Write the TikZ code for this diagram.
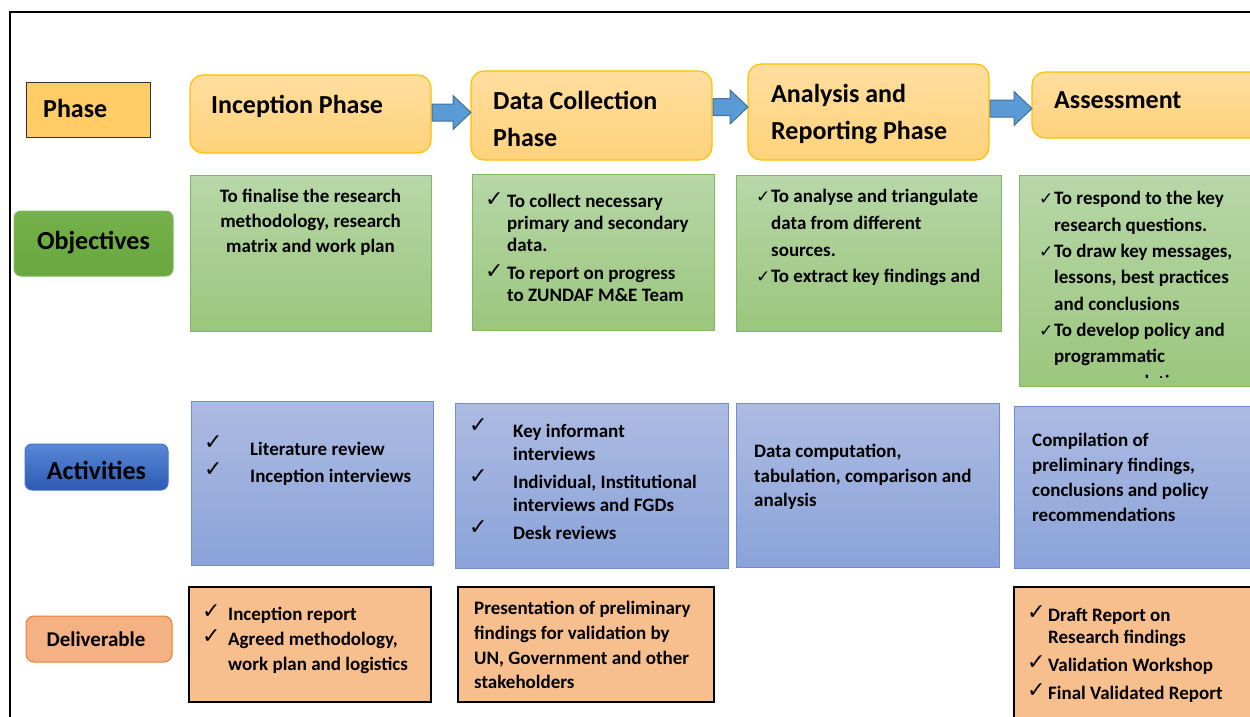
\documentclass[tikz,border=0pt]{standalone}
\usepackage{fontspec}
\setmainfont{Carlito}
\newfontfamily\symfont{DejaVu Sans}
\usetikzlibrary{calc}

\definecolor{phasetop}{HTML}{FFDE9E}
\definecolor{phasebot}{HTML}{FFD27C}
\definecolor{phaseline}{HTML}{FFC000}
\definecolor{labelgold}{HTML}{FFCC66}
\definecolor{objtop}{HTML}{B7D7A8}
\definecolor{objbot}{HTML}{9BC67D}
\definecolor{objline}{HTML}{80BA5E}
\definecolor{objlabtop}{HTML}{74B04B}
\definecolor{objlabbot}{HTML}{68A83F}
\definecolor{acttop}{HTML}{ACBBE2}
\definecolor{actbot}{HTML}{8BA3D9}
\definecolor{actline}{HTML}{6F8FD0}
\definecolor{actlabtop}{HTML}{5888D6}
\definecolor{actlabbot}{HTML}{2E5AB4}
\definecolor{actlabline}{HTML}{4472C4}
\definecolor{dellabel}{HTML}{F4B183}
\definecolor{delline}{HTML}{ED7D31}
\definecolor{delfill}{HTML}{F8BF8E}
\definecolor{arrowfill}{HTML}{5B9BD5}
\definecolor{arrowline}{HTML}{41719C}

% fonts
\newcommand\bodyfont[1]{\bfseries\fontsize{19}{#1}\selectfont}
\newcommand\tst{\rule{0pt}{0.72em}}
% check mark in a box of given width, raised by given amount
\newcommand\chk[3][22]{\makebox[#2][l]{\raisebox{#3}{\symfont\bfseries\fontsize{#1}{#1}\selectfont ✓}}}
\newcommand\ind[1]{\hspace*{#1}}

\tikzset{
  box/.style={anchor=north west, inner sep=0pt, outer sep=0pt},
  phasebox/.style={box, draw=phaseline, line width=1.2pt, rounded corners=13pt,
    top color=phasetop, bottom color=phasebot},
  objbox/.style={box, draw=objline, line width=1pt, top color=objtop, bottom color=objbot},
  actbox/.style={box, draw=actline, line width=1pt, top color=acttop, bottom color=actbot},
  delbox/.style={box, draw=black, line width=1.3pt, fill=delfill},
  body/.style={anchor=north west, inner sep=0pt, align=left},
  head/.style={anchor=north west, inner sep=0pt, align=left,
    font=\bfseries\fontsize{26}{37}\selectfont},
  labeltext/.style={inner sep=0pt, font=\bfseries\fontsize{26}{30}\selectfont},
  barrow/.style={draw=arrowline, line width=1pt, fill=arrowfill, line join=miter},
  frame/.style={draw=black, line width=2pt},
}

% block arrow from the east side of #1 to the west side of #2, centred at height #3
\newcommand\blockarrow[3]{%
  \draw[barrow] let \p1=(#1.east), \p2=(#2.west) in
    ({\x1+1pt},{-(#3)*1pt+8.5pt}) -- ({\x2-18pt},{-(#3)*1pt+8.5pt}) --
    ({\x2-18pt},{-(#3)*1pt+17pt}) -- ({\x2},{-(#3)*1pt}) --
    ({\x2-18pt},{-(#3)*1pt-17pt}) -- ({\x2-18pt},{-(#3)*1pt-8.5pt}) --
    ({\x1+1pt},{-(#3)*1pt-8.5pt}) -- cycle;}

\begin{document}
\begin{tikzpicture}[x=1pt,y=-1pt]
\clip (0,0) rectangle (1250,717);

% outer frame
\draw[frame] (1260,12) -- (10,12) -- (10,730);

% ---- row labels
\node[box, draw=black!80, line width=1pt, fill=labelgold,
  minimum width=124pt, minimum height=55pt] (lphase) at (26,82) {};
\node[labeltext, anchor=west] (lphaset) at (43,108) {Phase};

\node[box, draw=objline, line width=1pt, rounded corners=7pt,
  top color=objlabtop, bottom color=objlabbot,
  minimum width=159pt, minimum height=65pt] (lobj) at (14,211) {};
\node[labeltext] (lobjt) at ([yshift=1pt]lobj.center) {Objectives};

\node[box, draw=actlabline, line width=1pt, rounded corners=7pt,
  top color=actlabtop, bottom color=actlabbot,
  minimum width=143pt, minimum height=46pt] (lact) at (25,444) {};
\node[labeltext] (lactt) at ([yshift=-3pt]lact.center) {Activities};

\node[box, draw=delline, line width=1pt, rounded corners=8pt, fill=dellabel,
  minimum width=146pt, minimum height=46pt] (ldel) at (26,616) {};
\node[labeltext, font=\bfseries\fontsize{21}{25}\selectfont] (ldelt) at ([xshift=-3pt]ldel.center) {Deliverable};

% ---- phases
\node[phasebox, minimum width=241pt, minimum height=78pt] (p1) at (190,75) {};
\node[phasebox, minimum width=241pt, minimum height=89pt] (p2) at (471,71) {};
\node[phasebox, minimum width=241pt, minimum height=96pt] (p3) at (748,64) {};
\node[phasebox, minimum width=240pt, minimum height=66pt] (p4) at (1032,72) {};

\node[head] (p1t) at (211,95) {Inception Phase};
\node[head] (p2t) at (493,91) {Data Collection\\Phase};
\node[head] (p3t) at (771,84) {Analysis and\\Reporting Phase};
\node[head] (p4t) at (1054,91) {Assessment};

\blockarrow{p1}{p2}{112.5}
\blockarrow{p2}{p3}{107}
\blockarrow{p3}{p4}{108.5}

% ---- objectives
\node[objbox, minimum width=241pt, minimum height=156pt] (o1) at (190,175) {};
\node[objbox, minimum width=242pt, minimum height=156pt] (o2) at (472,174) {};
\node[objbox, minimum width=265pt, minimum height=156pt] (o3) at (736,175) {};
\node[objbox, minimum width=240pt, minimum height=211pt] (o4) at (1019,175) {};

\node[body, anchor=north, align=center, font=\bodyfont{25}] (o1t) at (310.5,189)
  {\tst To finalise the research\\methodology, research\\matrix and work plan};
\node[body, font=\bodyfont{22}] (o2t) at (485,192)
  {\tst\chk{22pt}{1pt}To collect necessary\\\ind{22pt}primary and secondary\\\ind{22pt}data.\\[6pt]%
   \chk{22pt}{1pt}To report on progress\\\ind{22pt}to ZUNDAF M\&E Team};
\node[body, font=\bodyfont{26.7}] (o3t) at (756,189)
  {\tst\chk[17]{15pt}{0pt}To analyse and triangulate\\\ind{15pt}data from different\\\ind{15pt}sources.\\%
   \chk[17]{15pt}{0pt}To extract key findings and};
\begin{scope}
  \clip (1019,175) rectangle (1250,377);
  \node[body, font=\bodyfont{26.3}] (o4t) at (1039,191)
    {\tst\chk[17]{15pt}{0pt}To respond to the key\\\ind{15pt}research questions.\\%
     \chk[17]{15pt}{0pt}To draw key messages,\\\ind{15pt}lessons, best practices\\\ind{15pt}and conclusions\\%
     \chk[17]{15pt}{0pt}To develop policy and\\\ind{15pt}programmatic\\\ind{15pt}recommendations};
\end{scope}

% ---- activities
\node[actbox, minimum width=242pt, minimum height=164pt] (a1) at (191,401) {};
\node[actbox, minimum width=273pt, minimum height=165pt] (a2) at (455,403) {};
\node[actbox, minimum width=263pt, minimum height=164pt] (a3) at (736,403) {};
\node[actbox, minimum width=240pt, minimum height=162pt] (a4) at (1014,406) {};

\node[body, font=\bodyfont{27}] (a1t) at (204,435)
  {\tst\chk{46pt}{6pt}Literature review\\\chk{46pt}{6pt}Inception interviews};
\node[body, font=\bodyfont{23}] (a2t) at (469,418)
  {\tst\chk{44pt}{5pt}Key informant\\\ind{44pt}interviews\\[5pt]%
   \chk{44pt}{5pt}Individual, Institutional\\\ind{44pt}interviews and FGDs\\[5pt]%
   \chk{44pt}{5pt}Desk reviews};
\node[body, font=\bodyfont{24.5}] (a3t) at (754,444)
  {\tst Data computation,\\tabulation, comparison and\\analysis};
\node[body, font=\bodyfont{25}] (a4t) at (1032,433)
  {\tst Compilation of\\preliminary findings,\\conclusions and policy\\recommendations};

% ---- deliverables
\node[delbox, minimum width=242pt, minimum height=115pt] (d1) at (189,587) {};
\node[delbox, minimum width=256pt, minimum height=115pt] (d2) at (458,587) {};
\node[delbox, minimum width=240pt, minimum height=140pt] (d3) at (1014,587) {};

\node[body, font=\bodyfont{25}] (d1t) at (202,604)
  {\tst\chk{26pt}{2pt}Inception report\\\chk{26pt}{2pt}Agreed methodology,\\\ind{26pt}work plan and logistics};
\node[body, font=\bodyfont{24.7}] (d2t) at (474,601)
  {\tst Presentation of preliminary\\findings for validation by\\UN, Government and other\\stakeholders};
\node[body, font=\bodyfont{22}] (d3t) at (1027,605)
  {\tst\chk{21pt}{2pt}Draft Report on\\\ind{21pt}Research findings\\[6pt]%
   \chk{21pt}{2pt}Validation Workshop\\[6pt]\chk{21pt}{2pt}Final Validated Report};

\end{tikzpicture}
\end{document}
